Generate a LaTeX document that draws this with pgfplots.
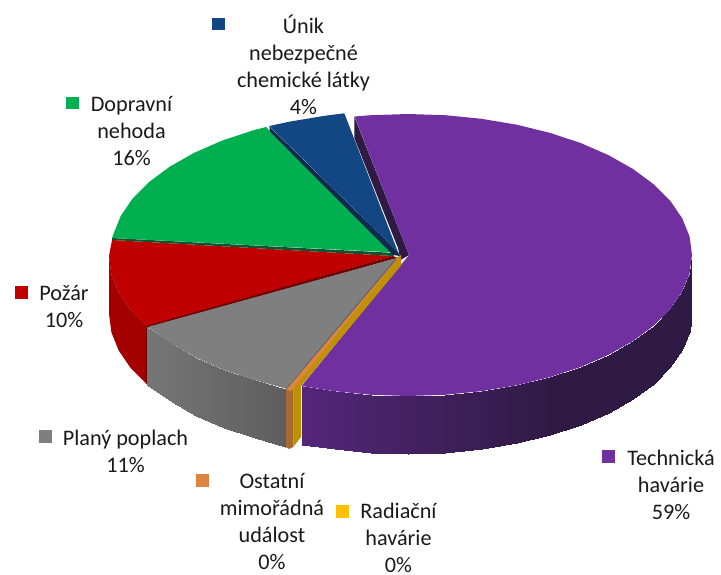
\documentclass[border=0pt]{standalone}
\usepackage{fontspec}
\setmainfont{Carlito}
\usepackage{pgfplots}
\pgfplotsset{compat=1.18}
\definecolor{cpurple}{HTML}{7030A0}
\definecolor{cpurpled}{HTML}{2E1A42}
\definecolor{cblue}{HTML}{134783}
\definecolor{cblued}{HTML}{0E2A50}
\definecolor{cgreen}{HTML}{00B050}
\definecolor{cgreend}{HTML}{11522F}
\definecolor{cred}{HTML}{C00000}
\definecolor{credw}{HTML}{A30000}
\definecolor{credd}{HTML}{6E0000}
\definecolor{cgray}{HTML}{7F7F7F}
\definecolor{cgrayd}{HTML}{666666}
\definecolor{corange}{HTML}{DD8440}
\definecolor{corangew}{HTML}{A66A32}
\definecolor{cyellow}{HTML}{FFC000}
\definecolor{cyelloww}{HTML}{BF9000}
\definecolor{ctext}{HTML}{1A1A1A}
\tikzset{lab/.style={font=\fontsize{22.2}{27}\selectfont, text=ctext, align=center, inner sep=0pt}}
\begin{document}
\begin{tikzpicture}
\begin{axis}[
  scale only axis, width=721pt, height=575pt,
  xmin=0, xmax=721, ymin=0, ymax=575, y dir=reverse,
  hide axis, clip=false, no markers,
  point meta min=0, point meta max=1,
  every axis plot/.append style={line join=round},
]
% page
\addplot[fill=white, draw=none] coordinates {(0,0)(721,0)(721,575)(0,575)};

% purple inner wall
\addplot[fill=cpurpled, draw=none] coordinates {(354.3,116.7)(354.3,138)(398,248)(400.7,260)(409,255)};

% purple outer wall
\addplot[surf, shader=interp, mesh/rows=2, point meta=explicit,
  colormap={pw}{rgb255=(84,38,122) rgb255=(46,26,66)}]
  table[x=x,y=y,meta=m]{
x y m
301.5 386 0
334.5 391.2 .13
370.9 394.8 .27
408 396 .41
445.1 394.8 .56
481.5 391.2 .70
516.7 385.3 .83
550 377.1 .96
580.9 366.9 1
608.8 354.7 1
633.3 340.8 1
653.9 325.5 1
670.4 309 1
682.3 291.5 1
689.6 273.4 1
692 255 1
301.5 444.5 0
334.5 449.2 .13
370.9 452.8 .27
408 454 .41
445.1 452.8 .56
481.5 449.2 .70
516.7 443.3 .83
550 435.1 .96
580.9 424.9 1
608.8 412.7 1
633.3 398.8 1
653.9 383.5 1
670.4 367 1
682.3 349.5 1
689.6 331.4 1
692 313 1
};

% purple top
\addplot[fill=cpurple, draw=none] coordinates {
(409,255)(301.5,386)(334.5,391.2)(370.9,394.8)(408,396)(445.1,394.8)(481.5,391.2)
(516.7,385.3)(550,377.1)(580.9,366.9)(608.8,354.7)(633.3,340.8)(653.9,325.5)(670.4,309)
(682.3,291.5)(689.6,273.4)(692,255)(689.6,236.6)(682.3,218.5)(670.4,201)(653.9,184.5)
(633.3,169.2)(608.8,155.3)(580.9,143.1)(550,132.9)(516.7,124.7)(481.5,118.8)(445.1,115.2)
(408,114)(370.9,115.2)(354.5,116.5)};

% yellow band
\addplot[fill=cyelloww, draw=none] coordinates {(396,258)(401,255)(401.5,265)(301,386)(301,437)(293.3,447)(293.3,384)};
% orange band and wall
\addplot[fill=corangew, draw=none] coordinates {(286,390)(293.3,384)(293.3,447)(289,449)(286,447)};
\addplot[fill=corange, draw=none] coordinates {(396,257.5)(398,258.5)(291,391)(286,389.5)};

% red wall
\addplot[fill=credw, draw=none] coordinates {
(109,256)(111.4,274.4)(118.7,292.5)(130.6,310)(147.1,326.5)(147.1,384.5)(130.6,368)(118.7,350.5)(111.4,332.4)(109,314)};
% red top
\addplot[fill=cred, draw=none] coordinates {
(393,256)(112,240)(109,256)(111.4,274.4)(118.7,292.5)(130.6,310)(147.1,326.5)};
% red dark edges
\addplot[fill=credd, draw=none] coordinates {(146,326)(393,256)(397,258)(148,328)(148,384.5)(146,383.5)};

% gray wall
\addplot[surf, shader=interp, mesh/rows=2, point meta=explicit,
  colormap={gw}{rgb255=(118,118,118) rgb255=(94,94,94)}]
  table[x=x,y=y,meta=m]{
x y m
147.5 327 0
171.7 343.8 .18
196.2 357.7 .35
224.1 369.9 .56
255 380.1 .78
285.5 388.5 1
147.5 384.5 0
171.7 401.8 .18
196.2 415.7 .35
224.1 427.9 .56
255 438.1 .78
285.5 447 1
};
% gray top
\addplot[fill=cgray, draw=none] coordinates {
(397,258)(147.5,327)(171.7,343.8)(196.2,357.7)(224.1,369.9)(255,380.1)(285.5,388.5)};
\addplot[draw=cgrayd, line width=1.2pt] coordinates {(396,259)(286,389)};

% dark edge of green
\addplot[fill=cgreend, draw=none] coordinates {(112,238)(112,240)(393,256)(396,253)};

% green top
\addplot[fill=cgreen, draw=none] coordinates {
(395,252.5)(112,238)(113.4,234.1)(120.7,216)(132.6,198.5)(149.1,182)(169.7,166.7)
(194.2,152.8)(222.1,140.6)(253,130.4)(266,127)};
% dark edge of blue
\addplot[fill=cblued, draw=none] coordinates {(269.3,126.5)(270,131.7)(393,255)(400,256)(398,252)};
% blue top
\addplot[fill=cblue, draw=none] coordinates {
(398,252)(269.3,126)(289.3,121.7)(324.5,115.8)(344.3,113.3)};

% legend keys
\addplot[fill=cblue, draw=none] coordinates {(212,18)(225,18)(225,30.5)(212,30.5)};
\addplot[fill=cgreen, draw=none] coordinates {(66,97)(79,97)(79,109.5)(66,109.5)};
\addplot[fill=cred, draw=none] coordinates {(15,286)(28,286)(28,298.5)(15,298.5)};
\addplot[fill=cgray, draw=none] coordinates {(39,430)(52,430)(52,442.5)(39,442.5)};
\addplot[fill=corange, draw=none] coordinates {(196,474.3)(209,474.3)(209,486.7)(196,486.7)};
\addplot[fill=cyellow, draw=none] coordinates {(336,505)(349,505)(349,517.7)(336,517.7)};
\addplot[fill=cpurple, draw=none] coordinates {(601.7,450)(615,450)(615,462.7)(601.7,462.7)};

% labels
\node[lab] at (axis cs:303.5,65) {Únik\\nebezpečné\\chemické látky\\4\%};
\node[lab] at (axis cs:131.5,131) {Dopravní\\nehoda\\16\%};
\node[lab] at (axis cs:64,307) {Požár\\10\%};
\node[lab] at (axis cs:125.5,451.5) {Planý poplach\\11\%};
\node[lab] at (axis cs:272,522) {Ostatní\\mimořádná\\událost\\0\%};
\node[lab] at (axis cs:398.5,538) {Radiační\\havárie\\0\%};
\node[lab] at (axis cs:671,485) {Technická\\havárie\\59\%};
\end{axis}
\end{tikzpicture}
\end{document}
